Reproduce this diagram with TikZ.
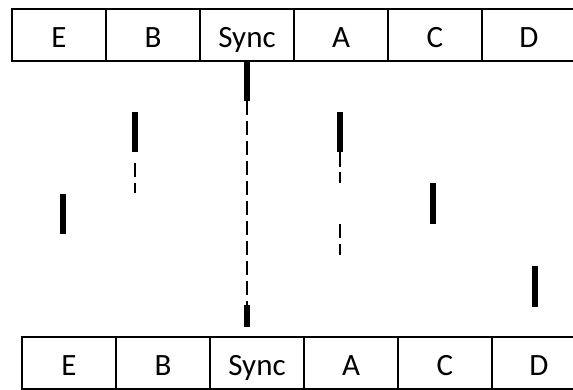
\documentclass[tikz,border=0pt]{standalone}
\usepackage{fontspec}
\setmainfont{Carlito}
\usepackage{tikz}

\tikzset{
  cell/.style={draw, line width=1.4pt, minimum width=94pt, minimum height=52pt,
    inner sep=0pt, outer sep=0pt, text height=24pt, text depth=0pt,
    font=\fontsize{31}{36}\selectfont},
  bar/.style={line width=5.3pt},
  wait/.style={line width=1.2pt, dash pattern=on 14pt off 6pt}
}

\begin{document}
\begin{tikzpicture}[x=1pt,y=-1pt]
\useasboundingbox (0,0) rectangle (573,389);
\clip (0,0) rectangle (573,389);

% upper order
\node[cell] (topE) at (59,35) {E};
\node[cell] (topB) at (153,35) {B};
\node[cell] (topSync) at (247,35) {Sync};
\node[cell] (topA) at (341,35) {A};
\node[cell] (topC) at (435,35) {C};
\node[cell] (topD) at (529,35) {D};

% lower order
\node[cell] (botE) at (69,363) {E};
\node[cell] (botB) at (163,363) {B};
\node[cell] (botSync) at (257,363) {Sync};
\node[cell] (botA) at (351,363) {A};
\node[cell] (botC) at (445,363) {C};
\node[cell] (botD) at (539,363) {D};

% sync runs through
\coordinate (sync1) at (topSync.south);
\coordinate (sync2) at (247,101);
\coordinate (sync3) at (247,305);
\coordinate (sync4) at (247,327);
\draw[bar] (sync1) -- (sync2);
\draw[line width=1.4pt, dash pattern=on 14pt off 6pt] (sync2) -- (sync3);
\draw[bar] (sync3) -- (sync4);

% B
\draw[bar] (135,112) -- (135,152);
\draw[wait] (135,163) -- (135,193);

% A
\draw[bar] (340,112) -- (340,152);
\draw[wait, dash pattern=on 15pt off 5pt] (340,152) -- (340,183);
\draw[wait] (340,224) -- (340,255);

% E, C, D
\draw[bar] (63,194) -- (63,234);
\draw[bar] (433,183) -- (433,224);
\draw[bar] (535,266) -- (535,307);
\end{tikzpicture}
\end{document}
